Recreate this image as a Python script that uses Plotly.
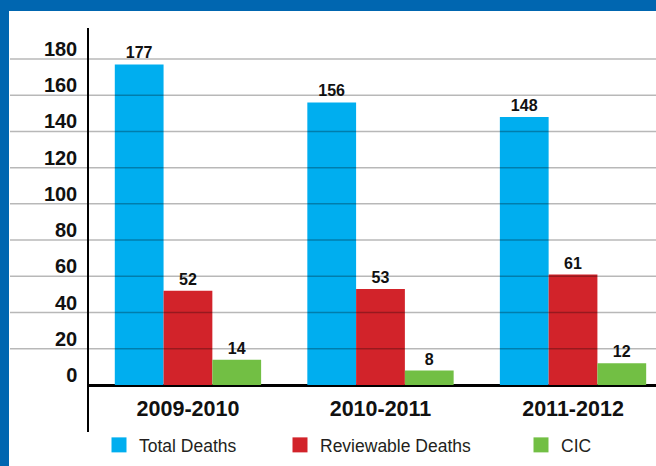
import plotly.graph_objects as go

categories = ["2009-2010", "2010-2011", "2011-2012"]
total_deaths = [177, 156, 148]
reviewable_deaths = [52, 53, 61]
cic = [14, 8, 12]
y_ticks = [0, 20, 40, 60, 80, 100, 120, 140, 160, 180]

series = [
    ("Total Deaths", total_deaths, "#00AEEF"),
    ("Reviewable Deaths", reviewable_deaths, "#D2232A"),
    ("CIC", cic, "#72BF44"),
]

W, H = 656, 466
ML, MR, MT, MB = 89, 0, 28, 34
PW, PH = W - ML - MR, H - MT - MB


def px_x(p):
    return (p - ML) / PW


def px_y(p):
    return (H - MB - p) / PH


fig = go.Figure()
legend_names = ["legend", "legend2", "legend3"]
for (name, vals, color), lg in zip(series, legend_names):
    fig.add_trace(go.Bar(
        x=categories, y=vals, name=name, marker=dict(color=color, line=dict(width=0)),
        text=vals, textposition="outside", cliponaxis=False,
        textfont=dict(family="Liberation Sans", size=16, color="#111111", weight="bold"),
        showlegend=False,
    ))
    fig.add_trace(go.Scatter(
        x=[None], y=[None], mode="markers", name=name,
        marker=dict(symbol="square", size=15, color=color),
        legend=lg, showlegend=True,
    ))

shapes = []
for t in y_ticks:
    if t == 0:
        continue
    shapes.append(dict(type="line", xref="paper", yref="y", x0=px_x(10), x1=1, y0=t, y1=t,
                       line=dict(color="rgba(0,0,0,0.28)", width=1.5), layer="above"))
# blue frame
shapes.append(dict(type="rect", xref="paper", yref="paper", x0=px_x(-2), x1=px_x(W),
                   y0=px_y(11), y1=px_y(-2), fillcolor="#0066B0", line=dict(width=0), layer="above"))
shapes.append(dict(type="rect", xref="paper", yref="paper", x0=px_x(-2), x1=px_x(9),
                   y0=px_y(H), y1=px_y(-2), fillcolor="#0066B0", line=dict(width=0), layer="above"))

legend_font = dict(family="Liberation Sans", size=17.5, color="#231F20")
legend_common = dict(orientation="h", yanchor="middle", y=px_y(445), xanchor="left",
                     font=legend_font, bgcolor="rgba(0,0,0,0)", borderwidth=0)

fig.update_layout(
    width=W, height=H, autosize=False,
    margin=dict(l=ML, r=MR, t=MT, b=MB, pad=0),
    paper_bgcolor="white", plot_bgcolor="white",
    barmode="group", bargap=0.24, bargroupgap=0,
    shapes=shapes,
    legend=dict(x=px_x(99), **legend_common),
    legend2=dict(x=px_x(280), **legend_common),
    legend3=dict(x=px_x(521), **legend_common),
    xaxis=dict(
        type="category", range=[-0.514, 2.431], showgrid=False, showline=False,
        zeroline=False, ticks="",
        tickfont=dict(family="Liberation Sans", size=21.5, color="#111111", weight="bold"),
        ticklabelstandoff=-39,
    ),
    yaxis=dict(
        range=[-25.95, 197.1], tickvals=y_ticks, showgrid=False,
        showline=True, linecolor="black", linewidth=1.5,
        zeroline=True, zerolinecolor="black", zerolinewidth=2.5,
        ticks="", layer="above traces",
        tickfont=dict(family="Liberation Sans", size=20, color="#111111", weight="bold"),
        ticklabelshift=-10, ticklabelstandoff=6,
    ),
)

fig.write_html(
    "out.html",
    config={"displayModeBar": False},
    post_script="document.body.style.margin='0';document.body.style.overflow='hidden';",
)
